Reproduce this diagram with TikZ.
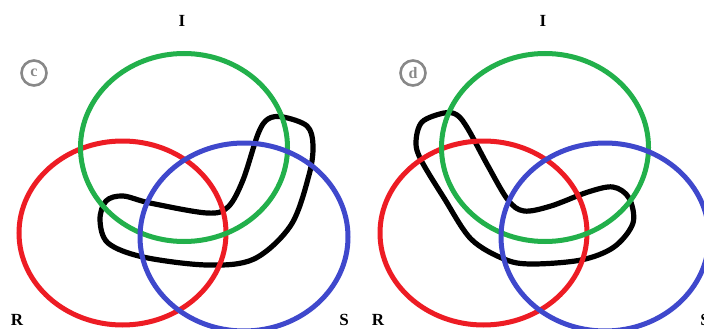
\documentclass[tikz,border=0pt]{standalone}
\usepackage{fontspec}
\setmainfont{Liberation Serif}
\usetikzlibrary{positioning}
\definecolor{setgreen}{HTML}{22B04B}
\definecolor{setred}{HTML}{ED1C24}
\definecolor{setblue}{HTML}{3F48CC}
\definecolor{tagsgray}{HTML}{888888}
\tikzset{
  setline/.style={line width=5pt},
  blobline/.style={line width=5.2pt, black, line join=round},
  setlabel/.style={font=\fontsize{17}{17}\selectfont\bfseries, inner sep=0pt},
  tagcircle/.style={circle, draw=tagsgray, line width=2.6pt, minimum size=25pt, inner sep=0pt,
    text=tagsgray, font=\fontsize{16}{16}\selectfont\bfseries}
}
\newcommand{\vennsets}{%
  \draw[setline, setred] (122.5,233) ellipse[x radius=103.5, y radius=92];
  \draw[setline, setgreen] (184,147.5) ellipse[x radius=103.5, y radius=94];
  \draw[setline, setblue] (244,237) ellipse[x radius=104, y radius=94];
}

\begin{document}
\begin{tikzpicture}[x=1pt, y=-1pt]
    \useasboundingbox (0,0) rectangle (704,329);
    % panel c
    \draw[blobline] plot[smooth cycle, tension=0.55] coordinates {
      (283,117) (307,126) (313,145) (309,175) (291,225) (254,259) (207,265)
      (143,257) (108,243) (100,220) (106,201) (123,196) (150,203) (207,213)
      (228,207) (243,180) (258,134) (268,119)};
    \vennsets
    \node[setlabel] (Ic) at (182,21) {I};
    \node[setlabel] (Rc) at (17,320) {R};
    \node[setlabel] (Sc) at (344,320) {S};
    \node[tagcircle] (tagc) at (34,73) {c};
    % panel d
    \begin{scope}[shift={(361,0)}]
      \draw[blobline] plot[smooth cycle, tension=0.55] coordinates {
        (83,113) (61,122) (55,142) (60,160) (83,198) (110,239) (143,259)
        (170,264) (220,260) (253,247) (272,223) (268,198) (252,187) (227,192)
        (190,206) (163,211) (147,200) (127,166) (107,129) (96,115)};
      \vennsets
      \node[setlabel] (Id) at (182,21) {I};
      \node[setlabel] (Rd) at (17,320) {R};
      \node[setlabel] (Sd) at (344,320) {S};
      \node[tagcircle] (tagd) at (52,73) {d};
    \end{scope}
\end{tikzpicture}
\end{document}
